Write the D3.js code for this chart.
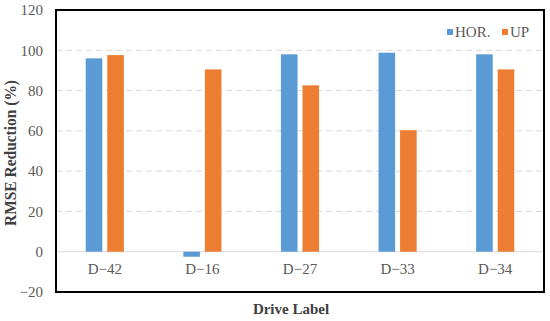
<!DOCTYPE html>
<html>
<head>
<meta charset="utf-8">
<script src="https://cdn.jsdelivr.net/npm/d3@7"></script>
<style>
  body { margin: 0; background: #fff; }
  svg text { font-family: "Liberation Serif", "Times New Roman", "DejaVu Serif", serif; }
</style>
</head>
<body>
<div id="vis"></div>
<script>
// chart data
var drives = ['D\u221242', 'D\u221216', 'D\u221227', 'D\u221233', 'D\u221234'];
var series = ['HOR.', 'UP'];
var horValues = [96, -2.5, 98, 98.8, 98];
var upValues = [97.6, 90.5, 82.6, 60.3, 90.5];
var yTicks = [-20, 0, 20, 40, 60, 80, 100, 120];

var width = 550;
var height = 321;
var box = { left: 56, top: 10, right: 544, bottom: 292 };
var serifFont = 'Liberation Serif, Times New Roman, DejaVu Serif, serif';

var colors = { 'HOR.': '#5b9bd5', 'UP': '#ed7d31' };

var svg = d3.select('#vis').append('svg')
  .attr('width', width)
  .attr('height', height)
  .attr('font-family', serifFont);

var x = d3.scaleBand()
  .domain(drives)
  .range([box.left, box.right]);

var x1 = d3.scaleBand()
  .domain(series)
  .range([0, x.bandwidth()])
  .paddingInner(0.23)
  .paddingOuter(1.38);

var y = d3.scaleLinear()
  .domain([-20, 120])
  .range([box.bottom, box.top]);

// gridlines
svg.selectAll('.grid')
  .data(yTicks.filter(function (d) { return d > -20 && d < 120; }))
  .enter().append('line')
  .attr('x1', box.left)
  .attr('x2', box.right)
  .attr('y1', function (d) { return y(d); })
  .attr('y2', function (d) { return y(d); })
  .attr('stroke', '#d9d9d9')
  .attr('stroke-width', 1)
  .attr('stroke-dasharray', function (d) { return d === 0 ? null : '6,4'; });

// bars
var rows = drives.map(function (d, i) {
  return { drive: d, values: [{ key: 'HOR.', v: horValues[i] }, { key: 'UP', v: upValues[i] }] };
});

var groups = svg.selectAll('.group')
  .data(rows)
  .enter().append('g')
  .attr('transform', function (d) { return 'translate(' + x(d.drive) + ',0)'; });

groups.selectAll('rect')
  .data(function (d) { return d.values; })
  .enter().append('rect')
  .attr('x', function (d) { return x1(d.key); })
  .attr('width', x1.bandwidth())
  .attr('y', function (d) { return y(Math.max(0, d.v)); })
  .attr('height', function (d) { return Math.abs(y(d.v) - y(0)); })
  .attr('fill', function (d) { return colors[d.key]; });

// y tick labels
var yAxis = svg.append('g')
  .attr('transform', 'translate(' + (box.left - 13) + ',0)')
  .call(d3.axisLeft(y).tickValues(yTicks).tickSize(0).tickPadding(0));
yAxis.attr('font-family', serifFont).attr('font-size', 15);
yAxis.select('.domain').remove();
yAxis.selectAll('text').attr('fill', '#595959');

// category labels
var xAxis = svg.append('g')
  .attr('transform', 'translate(0,' + (y(0) + 12) + ')')
  .call(d3.axisBottom(x).tickSize(0).tickPadding(0));
xAxis.attr('font-family', serifFont).attr('font-size', 15);
xAxis.select('.domain').remove();
xAxis.selectAll('text').attr('fill', '#595959');

// plot border
svg.append('rect')
  .attr('x', box.left)
  .attr('y', box.top)
  .attr('width', box.right - box.left)
  .attr('height', box.bottom - box.top)
  .attr('fill', 'none')
  .attr('stroke', '#000')
  .attr('stroke-width', 2);

// legend
var legendX = [447, 502];
var legend = svg.selectAll('.legend')
  .data(series)
  .enter().append('g')
  .attr('transform', function (d, i) { return 'translate(' + legendX[i] + ',29)'; });
legend.append('rect')
  .attr('width', 6)
  .attr('height', 6)
  .attr('fill', function (d) { return colors[d]; });
legend.append('text')
  .attr('x', 8)
  .attr('y', 8)
  .attr('font-size', 15)
  .attr('fill', '#595959')
  .text(function (d) { return d; });

// axis titles
svg.append('text')
  .attr('transform', 'translate(16,153) rotate(-90)')
  .attr('text-anchor', 'middle')
  .attr('font-size', 16)
  .attr('font-weight', 'bold')
  .attr('fill', '#404040')
  .attr('textLength', 146)
  .attr('lengthAdjust', 'spacingAndGlyphs')
  .text('RMSE Reduction (%)');

svg.append('text')
  .attr('x', 291)
  .attr('y', 314)
  .attr('text-anchor', 'middle')
  .attr('font-size', 15)
  .attr('font-weight', 'bold')
  .attr('fill', '#404040')
  .text('Drive Label');
</script>
</body>
</html>
